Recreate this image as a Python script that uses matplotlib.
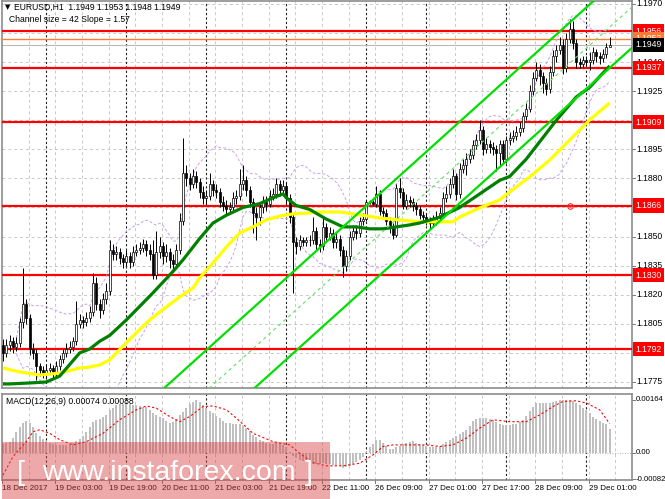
import numpy as np
import pandas as pd
import matplotlib
matplotlib.use("Agg")
from matplotlib import pyplot as plt
from matplotlib import transforms
from matplotlib.patches import Rectangle

plt.rcParams['font.family'] = ['Liberation Sans', 'DejaVu Sans']

# EURUSD H1, bars from 18 Dec 2017 11:00 to 29 Dec 2017 07:00
first_open = 1.1794
closes = [
    1.1790, 1.1794, 1.1796, 1.1793, 1.1795, 1.1806, 1.1815, 1.1808, 1.1792, 1.1790,
    1.1783, 1.1781, 1.1779, 1.1781, 1.1782, 1.1780, 1.1783, 1.1787, 1.1790, 1.1792,
    1.1793, 1.1796, 1.1805, 1.1807, 1.1806, 1.1808, 1.1811, 1.1826, 1.1815, 1.1812,
    1.1818, 1.1822, 1.1843, 1.1841, 1.1842, 1.1839, 1.1837, 1.1840, 1.1837, 1.1842,
    1.1843, 1.1844, 1.1846, 1.1843, 1.1841, 1.1830, 1.1842, 1.1845, 1.1840, 1.1842,
    1.1838, 1.1836, 1.1843, 1.1858, 1.1883, 1.1880, 1.1877, 1.1881, 1.1878, 1.1873,
    1.1870, 1.1871, 1.1877, 1.1874, 1.1873, 1.1868, 1.1866, 1.1864, 1.1865, 1.1870,
    1.1871, 1.1877, 1.1879, 1.1874, 1.1868, 1.1862, 1.1860, 1.1865, 1.1868, 1.1867,
    1.1871, 1.1872, 1.1877, 1.1874, 1.1876, 1.1870, 1.1860, 1.1847, 1.1845, 1.1848,
    1.1847, 1.1848, 1.1848, 1.1853, 1.1846, 1.1845, 1.1855, 1.1850, 1.1852, 1.1847,
    1.1849, 1.1843, 1.1835, 1.1840, 1.1850, 1.1853, 1.1852, 1.1858, 1.1859, 1.1868,
    1.1868, 1.1867, 1.1872, 1.1863, 1.1862, 1.1858, 1.1855, 1.1851, 1.1875, 1.1873,
    1.1866, 1.1869, 1.1868, 1.1866, 1.1864, 1.1861, 1.1860, 1.1858, 1.1857, 1.1858,
    1.1860, 1.1862, 1.1870, 1.1872, 1.1877, 1.1881, 1.1872, 1.1885, 1.1887, 1.1890,
    1.1892, 1.1897, 1.1900, 1.1905, 1.1895, 1.1898, 1.1896, 1.1895, 1.1893, 1.1898,
    1.1890, 1.1900, 1.1901, 1.1902, 1.1904, 1.1906, 1.1912, 1.1916, 1.1925, 1.1932,
    1.1936, 1.1933, 1.1929, 1.1926, 1.1935, 1.1943, 1.1946, 1.1949, 1.1937, 1.1952,
    1.1957, 1.1950, 1.1940, 1.1939, 1.1941, 1.1940, 1.1941, 1.1945, 1.1943, 1.1942,
    1.1944, 1.1948, 1.1949]
highs = [
    1.1797, 1.1797, 1.1799, 1.1798, 1.1798, 1.1808, 1.1834, 1.1818, 1.1810, 1.1795,
    1.1792, 1.1785, 1.1783, 1.1784, 1.1785, 1.1784, 1.1786, 1.1789, 1.1792, 1.1795,
    1.1796, 1.1798, 1.1817, 1.1810, 1.1809, 1.1811, 1.1814, 1.1831, 1.1829, 1.1818,
    1.1821, 1.1826, 1.1848, 1.1846, 1.1845, 1.1844, 1.1841, 1.1843, 1.1842, 1.1845,
    1.1846, 1.1847, 1.1849, 1.1848, 1.1846, 1.1848, 1.1853, 1.1850, 1.1847, 1.1846,
    1.1844, 1.1841, 1.1846, 1.1862, 1.1901, 1.1887, 1.1883, 1.1885, 1.1884, 1.1880,
    1.1876, 1.1874, 1.1883, 1.1879, 1.1877, 1.1875, 1.1871, 1.1869, 1.1868, 1.1873,
    1.1874, 1.1885, 1.1887, 1.1881, 1.1876, 1.1870, 1.1865, 1.1868, 1.1871, 1.1871,
    1.1874, 1.1875, 1.1880, 1.1879, 1.1879, 1.1878, 1.1872, 1.1862, 1.1850, 1.1851,
    1.1850, 1.1850, 1.1851, 1.1860, 1.1855, 1.1849, 1.1860, 1.1857, 1.1855, 1.1854,
    1.1852, 1.1851, 1.1845, 1.1843, 1.1853, 1.1856, 1.1856, 1.1860, 1.1862, 1.1869,
    1.1869, 1.1869, 1.1876, 1.1874, 1.1865, 1.1864, 1.1860, 1.1857, 1.1877, 1.1880,
    1.1875, 1.1872, 1.1871, 1.1870, 1.1868, 1.1866, 1.1863, 1.1862, 1.1860, 1.1861,
    1.1863, 1.1865, 1.1873, 1.1876, 1.1880, 1.1885, 1.1883, 1.1888, 1.1890, 1.1893,
    1.1895, 1.1900, 1.1903, 1.1910, 1.1907, 1.1901, 1.1900, 1.1899, 1.1897, 1.1900,
    1.1900, 1.1902, 1.1904, 1.1905, 1.1907, 1.1909, 1.1914, 1.1919, 1.1928, 1.1935,
    1.1940, 1.1939, 1.1935, 1.1932, 1.1938, 1.1946, 1.1949, 1.1953, 1.1952, 1.1955,
    1.1962, 1.1961, 1.1952, 1.1942, 1.1943, 1.1943, 1.1945, 1.1948, 1.1947, 1.1945,
    1.1947, 1.1950, 1.1953]
lows = [
    1.1786, 1.1788, 1.1791, 1.1790, 1.1791, 1.1793, 1.1803, 1.1805, 1.1789, 1.1787,
    1.1776, 1.1778, 1.1777, 1.1777, 1.1779, 1.1777, 1.1778, 1.1781, 1.1785, 1.1788,
    1.1790, 1.1791, 1.1794, 1.1803, 1.1803, 1.1804, 1.1806, 1.1809, 1.1812, 1.1808,
    1.1810, 1.1815, 1.1820, 1.1838, 1.1838, 1.1836, 1.1834, 1.1835, 1.1834, 1.1835,
    1.1840, 1.1841, 1.1842, 1.1840, 1.1838, 1.1828, 1.1828, 1.1839, 1.1836, 1.1837,
    1.1834, 1.1832, 1.1834, 1.1841, 1.1856, 1.1876, 1.1874, 1.1875, 1.1875, 1.1870,
    1.1867, 1.1867, 1.1869, 1.1871, 1.1870, 1.1865, 1.1863, 1.1861, 1.1862, 1.1863,
    1.1867, 1.1869, 1.1874, 1.1871, 1.1865, 1.1852, 1.1848, 1.1856, 1.1862, 1.1863,
    1.1865, 1.1869, 1.1870, 1.1871, 1.1872, 1.1867, 1.1857, 1.1821, 1.1841, 1.1843,
    1.1845, 1.1845, 1.1845, 1.1846, 1.1843, 1.1842, 1.1843, 1.1847, 1.1848, 1.1844,
    1.1844, 1.1840, 1.1829, 1.1832, 1.1838, 1.1848, 1.1849, 1.1850, 1.1856, 1.1858,
    1.1867, 1.1866, 1.1865, 1.1861, 1.1859, 1.1856, 1.1852, 1.1849, 1.1850, 1.1870,
    1.1864, 1.1864, 1.1865, 1.1863, 1.1861, 1.1859, 1.1857, 1.1856, 1.1854, 1.1855,
    1.1856, 1.1858, 1.1860, 1.1868, 1.1870, 1.1875, 1.1869, 1.1870, 1.1883, 1.1882,
    1.1888, 1.1890, 1.1895, 1.1898, 1.1892, 1.1893, 1.1893, 1.1892, 1.1884, 1.1887,
    1.1888, 1.1888, 1.1897, 1.1899, 1.1900, 1.1902, 1.1904, 1.1910, 1.1914, 1.1923,
    1.1930, 1.1928, 1.1924, 1.1923, 1.1924, 1.1933, 1.1940, 1.1944, 1.1934, 1.1935,
    1.1950, 1.1947, 1.1937, 1.1937, 1.1937, 1.1938, 1.1936, 1.1939, 1.1940, 1.1939,
    1.1940, 1.1942, 1.1948]

# moving averages (bar index, price)
fast_bars = [0, 2, 8, 13, 17, 20, 23, 26, 29, 32, 37, 45, 51, 54, 59, 63, 67, 72, 77, 81,
             84, 85, 88, 92, 97, 102, 106, 110, 114, 118, 122, 125, 131, 137, 143, 149,
             152, 157, 166, 172, 176, 182]
fast_vals = [1.1774, 1.1774, 1.17745, 1.1775, 1.1778, 1.1784, 1.1790, 1.1792, 1.1796, 1.1799,
             1.1807, 1.1821, 1.1832, 1.1838, 1.1849, 1.1857, 1.1861, 1.1865, 1.1867, 1.1870,
             1.1872, 1.1870, 1.1866, 1.1864, 1.1859, 1.1855, 1.1855, 1.1854, 1.1854, 1.1855,
             1.1856, 1.1857, 1.1860, 1.1865, 1.1872, 1.1879, 1.1881, 1.1890, 1.1910, 1.1922,
             1.1927, 1.1938]
slow_bars = [0, 5, 11, 17, 23, 26, 29, 32, 38, 44, 47, 53, 57, 59, 63, 67, 71, 75, 79, 83,
             87, 92, 95, 101, 107, 113, 119, 125, 131, 135, 137, 143, 149, 152, 158, 164,
             170, 176, 182]
slow_vals = [1.17822, 1.17802, 1.17786, 1.17796, 1.17822, 1.17827, 1.17838, 1.17864, 1.1797,
             1.18070, 1.18111, 1.18189, 1.18235, 1.18287, 1.18364, 1.18446, 1.18519, 1.18550,
             1.18586, 1.18606, 1.18617, 1.18622, 1.18627, 1.18627, 1.18612, 1.18596, 1.18586,
             1.18576, 1.18576, 1.18576, 1.18601, 1.18648, 1.18689, 1.18730, 1.18808, 1.18895,
             1.18998, 1.19102, 1.19189]

# regression channel: middle line at last bar, slope per bar, half width
channel_end_bar = 182
channel_end_mid = 1.1958
channel_slope = 0.000155
channel_half = 0.0021

levels = [1.1956, 1.1937, 1.1909, 1.1866, 1.1830, 1.1792]
orange_level = 1.1952
bid = 1.1949
price_ticks = [1.1970, 1.1955, 1.1940, 1.1925, 1.1910, 1.1895, 1.1880, 1.1865,
               1.1850, 1.1835, 1.1820, 1.1805, 1.1790, 1.1775]

macd = [
    0.00026, 0.00029, 0.00033, 0.00045, 0.00065, 0.00080, 0.00091, 0.00097, 0.00092, 0.00080,
    0.00062, 0.00052, 0.00042, 0.00035, 0.00030, 0.00027, 0.00025, 0.00024, 0.00024, 0.00025,
    0.00027, 0.00029, 0.00036, 0.00043, 0.00052, 0.00064, 0.00080, 0.00096, 0.00101, 0.00104,
    0.00110, 0.00118, 0.00131, 0.00140, 0.00148, 0.00150, 0.00151, 0.00152, 0.00151, 0.00149,
    0.00147, 0.00145, 0.00143, 0.00141, 0.00133, 0.00124, 0.00116, 0.00111, 0.00106, 0.00098,
    0.00092, 0.00096, 0.00104, 0.00116, 0.00127, 0.00140, 0.00152, 0.00158, 0.00162, 0.00157,
    0.00148, 0.00140, 0.00130, 0.00123, 0.00115, 0.00107, 0.00099, 0.00093, 0.00091, 0.00090,
    0.00090, 0.00088, 0.00082, 0.00076, 0.00066, 0.00056, 0.00048, 0.00040, 0.00035, 0.00030,
    0.00026, 0.00027, 0.00029, 0.00029, 0.00025, 0.00017, 0.00002, -0.00010, -0.00016, -0.00022,
    -0.00027, -0.00030, -0.00033, -0.00034, -0.00034, -0.00034, -0.00033, -0.00034, -0.00035, -0.00037,
    -0.00039, -0.00042, -0.00047, -0.00046, -0.00042, -0.00036, -0.00029, -0.00022, -0.00014, 0.00003,
    0.00016, 0.00027, 0.00040, 0.00038, 0.00030, 0.00022, 0.00012, 0.00010, 0.00016, 0.00022,
    0.00027, 0.00030, 0.00034, 0.00036, 0.00031, 0.00027, 0.00025, 0.00022, 0.00018, 0.00016,
    0.00018, 0.00022, 0.00027, 0.00032, 0.00038, 0.00044, 0.00051, 0.00057, 0.00064, 0.00071,
    0.00084, 0.00097, 0.00103, 0.00107, 0.00108, 0.00106, 0.00104, 0.00101, 0.00094, 0.00090,
    0.00087, 0.00086, 0.00087, 0.00088, 0.00090, 0.00094, 0.00100, 0.00114, 0.00129, 0.00142,
    0.00153, 0.00155, 0.00155, 0.00155, 0.00155, 0.00157, 0.00160, 0.00163, 0.00164, 0.00164,
    0.00163, 0.00161, 0.00155, 0.00147, 0.00140, 0.00133, 0.00122, 0.00112, 0.00105, 0.00098,
    0.00093, 0.00088, 0.00074]
sig_bars = [0, 3, 7, 9, 11, 14, 17, 21, 25, 30, 35, 40, 43, 46, 50, 53, 56, 60, 63, 67,
            70, 75, 81, 86, 89, 93, 97, 102, 107, 111, 114, 117, 122, 127, 131, 135, 139,
            143, 147, 152, 157, 161, 165, 168, 172, 175, 179, 182]
sig_vals = [-0.00070, -0.00012, 0.00034, 0.00065, 0.00071, 0.00060, 0.00040, 0.00024, 0.00034,
            0.00060, 0.00102, 0.00133, 0.00145, 0.00138, 0.00112, 0.00096, 0.00112, 0.00143,
            0.00145, 0.00133, 0.00107, 0.00060, 0.00034, 0.00024, -0.00002, -0.00031, -0.00041,
            -0.00041, -0.00033, -0.00007, 0.00019, 0.00024, 0.00024, 0.00024, 0.00019, 0.00024,
            0.00045, 0.00076, 0.00102, 0.00096, 0.00096, 0.00117, 0.00143, 0.00159, 0.00161,
            0.00154, 0.00133, 0.00090]
macd_ticks = [0.00164, 0.0, -0.00082]
macd_tick_labels = ['0.00164', '0.00', '-0.00082']

day_start_bars = [13, 37, 61, 85, 109, 127, 151, 175]
date_label_bars = [0, 16, 32, 48, 64, 80, 96, 112, 128, 144, 160, 176]
date_labels = ['18 Dec 2017', '19 Dec 03:00', '19 Dec 19:00', '20 Dec 11:00', '21 Dec 03:00',
               '21 Dec 19:00', '22 Dec 11:00', '26 Dec 09:00', '27 Dec 01:00', '27 Dec 17:00',
               '28 Dec 09:00', '29 Dec 01:00']

opens = np.array([first_open] + closes[:-1])
closes = np.array(closes)
n = len(closes)
idx = np.arange(n)

W, H = 665, 499
fig = plt.figure(figsize=(W / 100, H / 100), dpi=100)


def box(x0, y0, x1, y1):
    return [x0 / W, 1 - y1 / H, (x1 - x0) / W, (y1 - y0) / H]


ax = fig.add_axes(box(2, 1, 632, 388))
mx = fig.add_axes(box(2, 394, 632, 480))
xlim = (-0.3, 188.7)
for a in (ax, mx):
    a.set_xlim(*xlim)
    a.set_xticks([])
    a.set_yticks([])
    for s in a.spines.values():
        s.set_color('#8c8c8c')
        s.set_linewidth(1.2)
ax.set_ylim(1.17719, 1.19715)
mx.set_ylim(-0.00085, 0.00182)

grid_kw = dict(color='#c8c8c8', lw=0.7, ls=(0, (3, 3)), zorder=1)
for p in price_ticks:
    ax.axhline(p, **grid_kw)
for b in range(8, 190, 8):
    ax.axvline(b - 0.3, **grid_kw)
    mx.axvline(b - 0.3, **grid_kw)
for d in day_start_bars:
    ax.axvline(d - 0.1, color='#202020', lw=0.8, ls=(0, (2, 2)), zorder=1.2)
    mx.axvline(d - 0.1, color='#202020', lw=0.8, ls=(0, (2, 2)), zorder=1.2)

# horizontal levels
for p in levels:
    ax.axhline(p, color='#ff0000', lw=1.6, zorder=2.6)
ax.axhline(orange_level, color='#ff8030', lw=1.0, zorder=2.6)
ax.axhline(bid, color='#b8b8b8', lw=0.8, zorder=2.5)

# bollinger bands
s = pd.Series(closes)
mid = s.rolling(20, min_periods=5).mean()
sd = s.rolling(20, min_periods=5).std(ddof=0)
bb_kw = dict(color='#c9a0f0', lw=0.7, ls=(0, (3, 2)), zorder=2.8)
ax.plot(idx, mid + 2 * sd, **bb_kw)
ax.plot(idx, mid - 2 * sd, **bb_kw)

# candles
up = closes >= opens
ax.vlines(idx, lows, highs, color='black', lw=0.7, zorder=3)
body_lo = np.minimum(opens, closes)
body_h = np.maximum(np.abs(closes - opens), 0.00002)
ax.bar(idx[up], body_h[up], bottom=body_lo[up], width=0.62, facecolor='white',
       edgecolor='black', lw=0.5, zorder=3.1)
ax.bar(idx[~up], body_h[~up], bottom=body_lo[~up], width=0.62, facecolor='black',
       edgecolor='black', lw=0.5, zorder=3.1)

# moving averages
ax.plot(slow_bars, slow_vals, color='#ffff00', lw=2.3, zorder=4, solid_capstyle='butt')
ax.plot(fast_bars, fast_vals, color='#008000', lw=2.3, zorder=4.1, solid_capstyle='butt')

# regression channel
cx = np.array(xlim)
cmid = channel_end_mid + channel_slope * (cx - channel_end_bar)
ax.plot(cx, cmid + channel_half, color='#00e000', lw=1.6, zorder=4.2)
ax.plot(cx, cmid - channel_half, color='#00e000', lw=1.6, zorder=4.2)
ax.plot(cx, cmid, color='#60e060', lw=0.8, ls=(0, (3, 3)), zorder=4.2)

ax.plot(170, 1.1866, 'o', mfc='none', mec='#ff3030', ms=4, mew=0.8, zorder=5)
ax.plot(170, 1.1866, '.', color='#ff3030', ms=1.5, zorder=5)

# right price scale (labels under the coloured boxes are hidden, as in MT4)
ptr = transforms.blended_transform_factory(ax.transAxes, ax.transData)
boxed = levels + [orange_level, bid]
for p in price_ticks:
    if min(abs(p - q) for q in boxed) < 0.00025:
        continue
    ax.text(1.0065, p, f'{p:.4f}', transform=ptr, fontsize=6.2, va='center', ha='left',
            clip_on=False)
    ax.plot([1.0, 1.004], [p, p], transform=ptr, color='#606060', lw=0.6, clip_on=False)
box_kw = dict(transform=ptr, fontsize=6.2, va='center', ha='left', color='white',
              clip_on=False)
for p in levels:
    ax.text(1.0055, p, f'{p:.4f}', zorder=10,
            bbox=dict(boxstyle='square,pad=0.3', fc='#ff0000', ec='none'), **box_kw)
ax.text(1.0055, orange_level, f'{orange_level:.4f}', zorder=10,
        bbox=dict(boxstyle='square,pad=0.3', fc='#ff7a30', ec='none'), **box_kw)
ax.text(1.0055, bid, f'{bid:.4f}', zorder=11,
        bbox=dict(boxstyle='square,pad=0.3', fc='black', ec='none'), **box_kw)

fig.text(5 / W, 1 - 7 / H, '\u25bc', fontsize=5, va='center', family='DejaVu Sans')
fig.text(14 / W, 1 - 7 / H, 'EURUSD,H1  1.1949 1.1953 1.1948 1.1949', fontsize=6.2,
         va='center')
fig.text(9 / W, 1 - 19 / H, 'Channel size = 42 Slope = 1.57', fontsize=6.2, va='center')

# MACD panel
mx.bar(idx, macd, width=0.68, color='#c0c0c0', zorder=2)
mx.axhline(0, color='#a0a0a0', lw=0.6, ls=(0, (1, 2)), zorder=1.5)
mx.plot(sig_bars, sig_vals, color='#ff0000', lw=0.8, ls=(0, (2, 2)), zorder=3)
mtr = transforms.blended_transform_factory(mx.transAxes, mx.transData)
for v, t in zip(macd_ticks, macd_tick_labels):
    mx.text(1.0055, v, t, transform=mtr, fontsize=5.6, va='center', ha='left', clip_on=False)
    mx.plot([1.0, 1.004], [v, v], transform=mtr, color='#606060', lw=0.6, clip_on=False)
fig.text(6 / W, 1 - 401 / H, 'MACD(12,26,9) 0.00074 0.00088', fontsize=6.2, va='center')

dtr = transforms.blended_transform_factory(mx.transData, mx.transAxes)
for b, t in zip(date_label_bars, date_labels):
    mx.text(b - 0.3, -0.1, t, transform=dtr, fontsize=5.8, va='center', ha='left',
            clip_on=False)
    mx.plot([b - 0.3, b - 0.3], [0, -0.04], transform=dtr, color='#606060', lw=0.6,
            clip_on=False)

# watermark
fig.patches.append(Rectangle((2 / W, 0), 328 / W, 57 / H, transform=fig.transFigure,
                             fc='#d84040', alpha=0.45, ec='none', zorder=20))
wm_kw = dict(fontsize=20.5, color='white', family='Liberation Sans', va='baseline',
             zorder=21)
fig.text(17 / W, 1 - 480 / H, '[', **wm_kw)
fig.text(42 / W, 1 - 480 / H, 'www.instaforex.com', **wm_kw)
fig.text(305 / W, 1 - 480 / H, ']', **wm_kw)

fig.savefig('out.png', dpi=100, facecolor='white')
